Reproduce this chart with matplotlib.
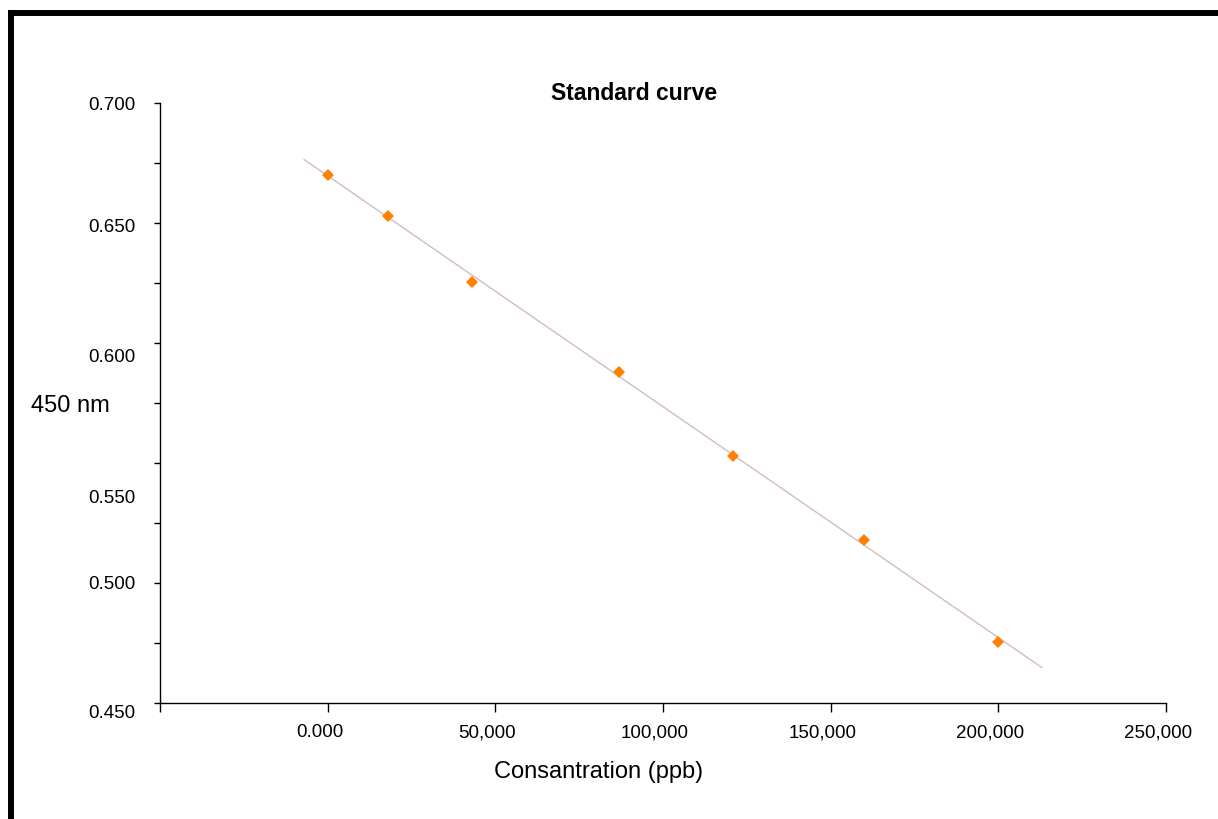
import matplotlib
matplotlib.use("Agg")
import matplotlib.pyplot as plt
import numpy as np
from matplotlib.lines import Line2D
from matplotlib.ticker import FixedLocator, FixedFormatter, MultipleLocator
from matplotlib.transforms import ScaledTranslation

plt.rcParams['font.family'] = ['Liberation Sans', 'DejaVu Sans']

# Data
concentration = [0, 18000, 43000, 87000, 121000, 160000, 200000]
absorbance = [0.6700, 0.6529, 0.6255, 0.5880, 0.5528, 0.5179, 0.4755]
trend_x_range = [-7000, 213000]

x_ticks = [-50000, 0, 50000, 100000, 150000, 200000, 250000]
x_tick_labels = ["", "0.000", "50,000", "100,000", "150,000", "200,000", "250,000"]
y_ticks = [0.450, 0.500, 0.550, 0.600, 0.650, 0.700]
y_tick_labels = ["0.450", "0.500", "0.550", "0.600", "0.650", "0.700"]

title = "Standard curve"
x_label = "Consantration (ppb)"
y_label = "450 nm"

W, H = 1218, 820
fig = plt.figure(figsize=(W / 100, H / 100), dpi=100)
ax = fig.add_axes([160 / W, 1 - 704 / H, (1166 - 160) / W, (704 - 104) / H])

# Trend line (linear fit)
coef = np.polyfit(concentration, absorbance, 1)
tx = np.array(trend_x_range, dtype=float)
ax.plot(tx, np.polyval(coef, tx), color='#d2bcbc', lw=1.0, zorder=2)

ax.plot(concentration, absorbance, linestyle='none', marker='D', markersize=6.5,
        color='#ff8000', markeredgewidth=0, zorder=3)

ax.set_xlim(-50000, 250000)
ax.set_ylim(0.450, 0.700)

for s in ['top', 'right']:
    ax.spines[s].set_visible(False)
for s in ['left', 'bottom']:
    ax.spines[s].set_linewidth(1.0)
    ax.spines[s].set_color('black')

ax.xaxis.set_major_locator(FixedLocator(x_ticks))
ax.xaxis.set_major_formatter(FixedFormatter(x_tick_labels))
ax.yaxis.set_major_locator(FixedLocator(y_ticks))
ax.yaxis.set_major_formatter(FixedFormatter(y_tick_labels))
ax.yaxis.set_minor_locator(MultipleLocator(0.025))

ax.tick_params(axis='x', which='major', direction='out', length=6.5, width=1.0,
               pad=8, labelsize=13.5)
ax.tick_params(axis='y', which='both', direction='out', length=4.5, width=1.0,
               pad=13, labelsize=13.5)

# x tick labels sit slightly left of their ticks in the reference
for lab in ax.get_xticklabels():
    lab.set_transform(lab.get_transform() + ScaledTranslation(-8 / 100, 0, fig.dpi_scale_trans))
# y tick labels are irregularly placed in the reference (pixel offsets downward)
y_label_shift = [8, -1, 33, 12, 2, 0]
for lab, dy in zip(ax.get_yticklabels(), y_label_shift):
    lab.set_transform(lab.get_transform() + ScaledTranslation(0, -dy / 100, fig.dpi_scale_trans))

fig.text(634 / W, 1 - 94 / H, title, fontsize=16.5, fontweight='bold', ha='center', va='center')
fig.text(31 / W, 1 - 406 / H, y_label, fontsize=17, ha='left', va='center')
fig.text(599 / W, 1 - 772 / H, x_label, fontsize=17, ha='center', va='center')

# Outer frame (top and left thick lines)
fig.add_artist(Line2D([8 / W, 1.0], [1 - 13.5 / H, 1 - 13.5 / H], color='black',
                      lw=4.3, transform=fig.transFigure, solid_capstyle='butt'))
fig.add_artist(Line2D([11 / W, 11 / W], [1 - 11 / H, 0.0], color='black',
                      lw=4.3, transform=fig.transFigure, solid_capstyle='butt'))

fig.savefig("out.png", dpi=100)
